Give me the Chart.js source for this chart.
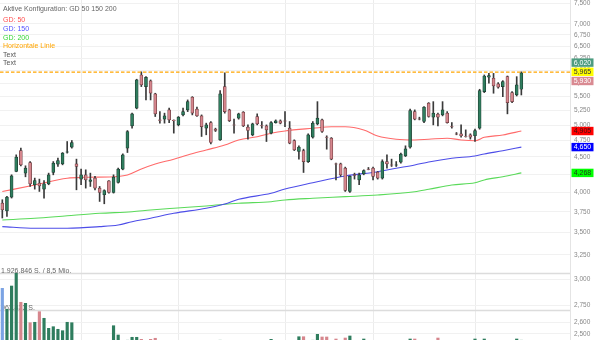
<!DOCTYPE html>
<html>
<head>
<meta charset="utf-8">
<script src="https://cdn.jsdelivr.net/npm/chart.js@4.4.0/dist/chart.umd.min.js"></script>
<style>
  html, body { margin: 0; padding: 0; background: #fff; }
  #wrap { width: 600px; height: 340px; position: relative; }
</style>
</head>
<body>
<div id="wrap"><canvas id="kurs"></canvas></div>
<script>
// --- KURSDATEN (Tageskerzen) ---
const opens = [3861, 3763, 3939, 4288, 4597, 4265, 4418, 4103, 4126, 4044, 4116, 4274, 4395, 4399, 4573, 4650, 4399, 4181, 4241, 4148,
  4195, 4058, 3969, 4158, 3999, 4134, 4322, 4634, 4990, 5292, 5909, 5685, 5793, 5548, 5090, 5102, 5262, 5085, 5006, 5175,
  5262, 5488, 5274, 5158, 4952, 5045, 4935, 4764, 5685, 5262, 5006, 5119, 5222, 4968, 4844, 5147, 4993, 4990, 4871, 5045,
  5073, 5073, 4952, 4753, 4582, 4597, 4432, 4807, 5023, 5090, 4807, 4791, 4399, 4399, 4337, 4013, 4245, 4171, 4255, 4322,
  4337, 4279, 4195, 4432, 4384, 4380, 4424, 4517, 4650, 5232, 5107, 5062, 5380, 5136, 5187, 5175, 5205, 4978, 4860, 4860,
  4817, 4844, 4828, 4952, 5591, 5864, 5845, 5736, 5685, 5876, 5573, 5529, 5635];
const highs = [3904, 3947, 4241, 4532, 4634, 4370, 4432, 4195, 4181, 4162, 4265, 4432, 4483, 4567, 4737, 4753, 4468, 4322, 4312, 4265,
  4218, 4080, 4035, 4162, 4241, 4337, 4547, 4913, 5205, 5826, 5971, 5876, 5812, 5561, 5232, 5205, 5292, 5090, 5147, 5292,
  5439, 5499, 5309, 5175, 5035, 5062, 4952, 5609, 5951, 5274, 5102, 5205, 5232, 5006, 5035, 5193, 5062, 5006, 5062, 5090,
  5090, 5232, 5062, 4764, 4670, 4618, 4860, 5062, 5408, 5102, 4828, 4800, 4409, 4409, 4351, 4227, 4265, 4265, 4312, 4346,
  4351, 4288, 4458, 4532, 4468, 4432, 4558, 4670, 5274, 5262, 5136, 5320, 5391, 5408, 5205, 5408, 5232, 5045, 4881, 5006,
  4924, 4860, 4935, 5635, 5909, 5940, 5940, 5761, 5799, 5889, 5591, 5876, 5971];
const lows = [3674, 3693, 3926, 4284, 4370, 4213, 4080, 4044, 4013, 3926, 4103, 4241, 4360, 4384, 4558, 4634, 4035, 4103, 4058, 4080,
  4035, 3882, 3852, 3991, 3991, 4126, 4312, 4567, 4952, 5280, 5685, 5439, 5439, 5147, 5035, 5035, 5045, 4871, 4990, 5158,
  5232, 5175, 5147, 4817, 4844, 4701, 4897, 4753, 5205, 5062, 4871, 5102, 4978, 4775, 4828, 5006, 4952, 4737, 4860, 5035,
  5023, 4978, 4701, 4597, 4468, 4274, 4418, 4791, 5006, 4881, 4618, 4458, 4171, 4218, 4013, 3999, 4181, 4103, 4241, 4312,
  4171, 4181, 4181, 4337, 4360, 4360, 4409, 4506, 4634, 5090, 5090, 5045, 5136, 5006, 4990, 5158, 5035, 4952, 4844, 4807,
  4807, 4775, 4737, 4935, 5573, 5750, 5561, 5655, 5498, 5193, 5391, 5511, 5529];
const closes = [3776, 3939, 4227, 4498, 4384, 4337, 4116, 4162, 4089, 4116, 4241, 4409, 4448, 4558, 4578, 4721, 4360, 4241, 4171, 4171,
  4058, 3999, 4026, 3999, 4209, 4322, 4532, 4897, 5193, 5812, 5717, 5864, 5561, 5193, 5082, 5158, 5090, 5078, 5136, 5232,
  5408, 5205, 5158, 4978, 5006, 4721, 4913, 5548, 5232, 5078, 5001, 5193, 4990, 4913, 5023, 5023, 4987, 4924, 5045, 5073,
  5035, 5068, 4712, 4608, 4650, 4432, 4844, 5035, 5119, 4897, 4802, 4468, 4395, 4241, 4026, 4218, 4231, 4241, 4302, 4319,
  4218, 4195, 4432, 4399, 4380, 4384, 4542, 4623, 5250, 5102, 5102, 5309, 5147, 5205, 5136, 5262, 5045, 4973, 4855, 4828,
  4812, 4807, 4913, 5609, 5889, 5895, 5698, 5674, 5780, 5391, 5408, 5717, 5951];
const volumes = [1533000, 982000, 1593000, 1926846, 1166000, 1139000, 630000, 641000, 919000, 746000, 483000, 525000, 457000, 420000, 641000, 630000, 150000, 140000, 160000, 130000,
  120000, 150000, 165000, 140000, 551000, 307000, 160000, 170000, 247000, 247000, 194000, 150000, 194000, 221000, 140000, 120000, 130000, 110000, 150000, 120000,
  130000, 160000, 120000, 110000, 140000, 130000, 100000, 170000, 160000, 120000, 110000, 100000, 120000, 110000, 130000, 100000, 110000, 120000, 194000, 110000,
  120000, 130000, 140000, 150000, 262000, 262000, 150000, 170000, 325000, 255000, 255000, 150000, 202000, 160000, 228000, 281000, 150000, 140000, 202000, 120000,
  110000, 130000, 150000, 120000, 110000, 100000, 120000, 140000, 202000, 202000, 150000, 140000, 160000, 130000, 228000, 150000, 140000, 120000, 110000, 120000,
  130000, 110000, 202000, 165000, 202000, 150000, 140000, 130000, 140000, 160000, 150000, 202000, 170000];

// --- GLEITENDE DURCHSCHNITTE (Tag, Wert) ---
const gd50 = [[0, 4012], [7, 4100], [14, 4192], [18, 4206], [25, 4218], [27, 4238], [30, 4324], [33, 4397], [37, 4466], [40, 4530],
  [44, 4606], [48, 4683], [51, 4762], [55, 4814], [58, 4869], [61, 4906], [67, 4950], [71, 4976], [74, 4976], [78, 4922],
  [81, 4825], [85, 4773], [89, 4762], [92, 4773], [96, 4789], [99, 4762], [102, 4750], [104, 4804], [108, 4841], [112, 4905]];
const gd150 = [[0, 3570], [7, 3551], [14, 3551], [21, 3570], [25, 3590], [28, 3629], [32, 3671], [37, 3732], [44, 3795], [48, 3849],
  [51, 3910], [58, 3989], [61, 4046], [67, 4131], [74, 4225], [81, 4285], [85, 4334], [89, 4382], [92, 4426], [97, 4481],
  [102, 4515], [104, 4545], [108, 4595], [112, 4650]];
const gd200 = [[0, 3650], [7, 3671], [14, 3702], [21, 3732], [28, 3752], [32, 3773], [37, 3795], [44, 3824], [51, 3858], [58, 3879],
  [61, 3901], [67, 3923], [74, 3944], [81, 3966], [89, 4010], [92, 4042], [97, 4100], [102, 4131], [104, 4169], [108, 4215], [112, 4268]];

// --- ACHSEN ---
const priceTicks = [7500, 7000, 6750, 6500, 6250, 6000, 5750, 5500, 5250, 5000, 4750, 4500, 4250, 4000, 3750, 3500, 3250, 3000, 2750, 2600, 2500];
const monthStarts = [17, 38, 61, 80, 102];
const horizontalLine = 5965;
const volMax = 1926846;
const volMaxText = '1.926.846 S. / 8,5 Mio.';
const volHalfText = '963.423 S.';
const legendLines = [
  ['Aktive Konfiguration: GD 50 150 200', '#666'],
  ['GD: 50', '#ff4d4d'],
  ['GD: 150', '#5050ff'],
  ['GD: 200', '#33d633'],
  ['Horizontale Linie', '#ffa500'],
  ['Text', '#555'],
  ['Text', '#555']
];
const valueTags = [
  { v: 6020, bg: '#4d9c80', fg: '#fff' },
  { v: 5965, bg: '#ffff00', fg: '#333' },
  { v: 5930, bg: '#d98a92', fg: '#fff' },
  { v: 4905, bg: '#ff0000', fg: '#3a1010' },
  { v: 4650, bg: '#0000ff', fg: '#fff' },
  { v: 4268, bg: '#00ff00', fg: '#1a3a1a' }
];

const SLOTS = 123;
const days = Array.from({ length: SLOTS }, (_, i) => String(i + 1));

const UP = '#2f7d5e';
const DOWN = '#d6868d';
const up = closes.map((c, i) => c >= opens[i]);
const bodyData = opens.map((o, i) => [Math.min(o, closes[i]), Math.max(o, closes[i])]);
const wickData = lows.map((l, i) => [l, highs[i]]);
const volColors = volumes.map((_, i) => i === 0 ? '#7ba3e3' : (up[i] ? UP : DOWN));

function maSeries(anchors) {
  const out = new Array(opens.length).fill(null);
  anchors.forEach(([i, v]) => { out[i] = v; });
  return out;
}

const FONT = '"Liberation Sans", Arial, sans-serif';
Chart.defaults.font.family = FONT;

const overlay = {
  id: 'overlay',
  beforeDatasetsDraw(chart) {
    const { ctx, chartArea, scales } = chart;
    const yv = scales.yv;
    ctx.save();
    ctx.strokeStyle = '#dcdcdc';
    ctx.lineWidth = 1.5;
    [volMax, volMax / 2].forEach(v => {
      const y = Math.round(yv.getPixelForValue(v)) + 0.5;
      ctx.beginPath();
      ctx.moveTo(chartArea.left, y);
      ctx.lineTo(chartArea.right, y);
      ctx.stroke();
    });
    ctx.fillStyle = '#666';
    ctx.font = '7px ' + FONT;
    ctx.textBaseline = 'alphabetic';
    ctx.fillText(volMaxText, 1, yv.getPixelForValue(volMax) - 0.5);
    ctx.fillText(volHalfText, 1, yv.getPixelForValue(volMax / 2) - 0.5);
    ctx.restore();
  },
  afterDatasetsDraw(chart) {
    const { ctx, chartArea, scales } = chart;
    ctx.save();
    // horizontale Linie
    const hy = scales.y.getPixelForValue(horizontalLine);
    ctx.strokeStyle = '#ffa500';
    ctx.lineWidth = 1.3;
    ctx.setLineDash([3.5, 2]);
    ctx.beginPath();
    ctx.moveTo(chartArea.left, hy);
    ctx.lineTo(chartArea.right, hy);
    ctx.stroke();
    ctx.setLineDash([]);
    // Legende oben links
    ctx.font = '7px ' + FONT;
    ctx.textBaseline = 'middle';
    const ys = [9.5, 20, 29, 38, 46.5, 55, 63.5];
    legendLines.forEach(([t, c], i) => {
      ctx.fillStyle = c;
      ctx.fillText(t, 3, ys[i]);
    });
    ctx.restore();
  },
  afterDraw(chart) {
    const { ctx, chartArea, scales } = chart;
    const h = 9.2;
    const tags = valueTags.map(t => ({ ...t, y: scales.y.getPixelForValue(t.v) })).sort((a, b) => a.y - b.y);
    // überlappende Marken auseinanderziehen
    const groups = [];
    tags.forEach(t => {
      const g = groups[groups.length - 1];
      if (g && t.y - g[g.length - 1].y < h) g.push(t); else groups.push([t]);
    });
    groups.forEach(g => {
      const mid = g.reduce((s, t) => s + t.y, 0) / g.length;
      g.forEach((t, k) => { t.y = mid + (k - (g.length - 1) / 2) * h; });
    });
    ctx.save();
    ctx.font = '7px ' + FONT;
    ctx.textAlign = 'center';
    ctx.textBaseline = 'middle';
    const x0 = chartArea.right + 1.5;
    tags.forEach(t => {
      ctx.fillStyle = t.bg;
      ctx.fillRect(x0, t.y - h / 2 + 0.4, 22, h - 0.8);
      ctx.fillStyle = t.fg;
      ctx.fillText(t.v.toLocaleString('en-US'), x0 + 11, t.y + 0.3);
    });
    ctx.restore();
  }
};

new Chart(document.getElementById('kurs'), {
  type: 'bar',
  data: {
    labels: days,
    datasets: [
      {
        label: 'Kerzen',
        data: bodyData,
        yAxisID: 'y',
        order: 0,
        grouped: false,
        barThickness: 3,
        backgroundColor: up.map(u => u ? UP : DOWN),
        borderColor: up.map(u => u ? '#1c3a2e' : '#6b3a3e'),
        borderWidth: 0.7,
        borderSkipped: false
      },
      {
        label: 'Dochte',
        data: wickData,
        yAxisID: 'y',
        order: 1,
        grouped: false,
        barThickness: 1,
        backgroundColor: '#3a3a3a'
      },
      {
        type: 'line', label: 'GD 50', data: maSeries(gd50), yAxisID: 'y', order: 2,
        borderColor: '#ff6a6a', borderWidth: 1.1, pointRadius: 0, spanGaps: true, cubicInterpolationMode: 'monotone'
      },
      {
        type: 'line', label: 'GD 150', data: maSeries(gd150), yAxisID: 'y', order: 2,
        borderColor: '#4d4de8', borderWidth: 1.1, pointRadius: 0, spanGaps: true, cubicInterpolationMode: 'monotone'
      },
      {
        type: 'line', label: 'GD 200', data: maSeries(gd200), yAxisID: 'y', order: 2,
        borderColor: '#5ada5a', borderWidth: 1.1, pointRadius: 0, spanGaps: true, cubicInterpolationMode: 'monotone'
      },
      {
        label: 'Volumen',
        data: volumes,
        yAxisID: 'yv',
        order: 3,
        grouped: false,
        barThickness: 2.5,
        backgroundColor: volColors
      }
    ]
  },
  options: {
    responsive: true,
    maintainAspectRatio: false,
    animation: false,
    layout: { padding: 0 },
    plugins: { legend: { display: false }, tooltip: { enabled: false } },
    scales: {
      x: {
        offset: true,
        grid: {
          offset: false,
          drawTicks: false,
          color: c => monthStarts.includes(c.index) ? '#ececec' : 'rgba(0,0,0,0)'
        },
        border: { display: false },
        ticks: { display: false, autoSkip: false },
        afterFit: s => { s.height = 0; s.paddingLeft = 0; s.paddingRight = 0; }
      },
      y: {
        type: 'logarithmic',
        position: 'right',
        min: 2450,
        max: 7580,
        afterBuildTicks: s => { s.ticks = priceTicks.map(v => ({ value: v })); },
        // Achse füllt die volle Höhe, keine Randabstände für Beschriftungen
        afterFit: s => { s.width = 30; s.paddingTop = 0; s.paddingBottom = 0; },
        grid: { color: '#f1f1f1', drawTicks: false },
        border: { color: '#e4e4e4' },
        ticks: {
          autoSkip: false,
          padding: 4,
          color: '#888',
          font: { size: 6.5 },
          callback: v => Number(v).toLocaleString('en-US')
        }
      },
      yv: { type: 'linear', display: false, min: 175900, max: 9101300 }
    }
  },
  plugins: [overlay]
});
</script>
</body>
</html>
